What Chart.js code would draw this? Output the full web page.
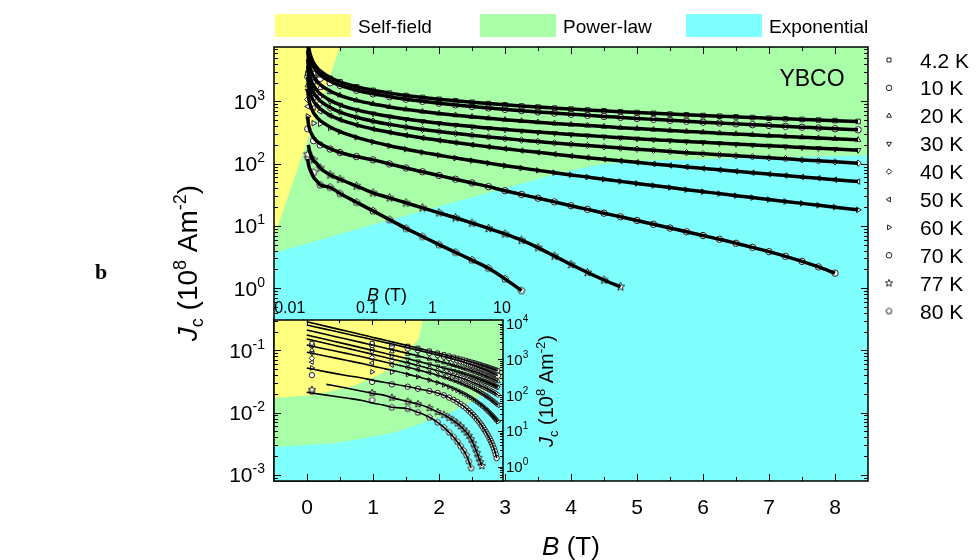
<!DOCTYPE html>
<html>
<head>
<meta charset="utf-8">
<script src="https://cdn.jsdelivr.net/npm/chart.js@4.4.1/dist/chart.umd.min.js"></script>
<style>
  html,body{margin:0;padding:0;background:#ffffff;}
  #wrap{position:relative;width:976px;height:560px;overflow:hidden;background:#fff;}
  #mainChart{position:absolute;left:0;top:0;width:976px;height:560px;}
  #insetChart{position:absolute;left:264px;top:270px;width:296px;height:212px;}
</style>
</head>
<body>
<div id="wrap">
  <canvas id="mainChart" width="976" height="560"></canvas>
  <canvas id="insetChart" width="296" height="212"></canvas>
</div>
<script>
// ---------------- data (B in tesla, Jc in 10^8 A m^-2) ----------------
const temperatureLabels = ['4.2 K','10 K','20 K','30 K','40 K','50 K','60 K','70 K','77 K','80 K'];

// measured field points (markers)
const fieldT = [0.012, 0.1, 0.2, 0.35, 0.5, 0.75, 1, 1.25, 1.5, 1.75, 2, 2.25, 2.5, 2.75, 3, 3.25, 3.5, 3.75,
                4, 4.25, 4.5, 4.75, 5, 5.25, 5.5, 5.75, 6, 6.25, 6.5, 6.75, 7, 7.25, 7.5, 7.75, 8, 8.35];

const jc4K  = [2818, 2818, 2692, 2344, 2065, 1722, 1509, 1360, 1248, 1158, 1085, 1023, 970, 924, 883, 846, 813, 783,
               755, 730, 707, 684, 664, 645, 627, 610, 594, 579, 565, 551, 538, 526, 514, 503, 492, 477];
const jc10K = [2512, 2512, 2344, 1995, 1811, 1512, 1325, 1191, 1088, 1006, 938, 880, 830, 786, 747, 711, 679, 650,
               623, 599, 575, 554, 534, 515, 497, 481, 465, 450, 436, 423, 410, 398, 386, 375, 364, 350];
const jc20K = [1820, 2040, 1660, 1413, 1253, 1041, 910, 817, 746, 689, 642, 602, 567, 537, 510, 486, 464, 444,
               426, 410, 394, 379, 366, 353, 341, 330, 319, 309, 300, 291, 282, 274, 266, 258, 251, 242];
const jc30K = [1479, 1622, 1202, 1000, 882, 731, 638, 571, 521, 480, 447, 419, 394, 373, 354, 337, 322, 308,
               295, 283, 272, 262, 252, 243, 235, 227, 220, 213, 206, 200, 194, 188, 182, 177, 172, 165];
const jc40K = [1072, 1122, 933, 776, 675, 556, 482, 428, 388, 355, 328, 306, 286, 269, 253, 239, 227, 215,
               205, 196, 187, 178, 171, 164, 157, 150, 145, 139, 134, 129, 124, 120, 115, 111, 107, 102];
const jc50K = [832, 794, 692, 589, 510, 420, 361, 319, 286, 259, 237, 218, 201, 187, 174, 162, 152, 142,
               133, 125, 118, 111, 105, 99.2, 93.8, 88.7, 84.0, 79.5, 75.4, 71.5, 67.9, 64.5, 61.2, 58.2, 55.3, 51.6];
const jc60K = [575, 447, 437, 376, 326, 265, 224, 194, 171, 152, 137, 123, 112, 102, 92.9, 85.1, 78.0, 71.7,
               66.0, 60.9, 56.2, 51.9, 48.1, 44.5, 41.3, 38.2, 35.5, 33.0, 30.6, 28.5, 26.5, 24.7, 23.0, 21.4, 20.0, 18.1];
const jc70K = [363, 234, 200, 172, 151, 130, 115, 98.9, 85.1, 74.1, 64.6, 56.2, 49.0, 42.7, 36.7, 32.0, 27.9, 24.3,
               21.1, 18.4, 16.0, 14.0, 12.2, 10.6, 9.23, 8.04, 7.00, 6.10, 5.25, 4.52, 3.85, 3.24, 2.69, 2.19, 1.74];
const jc77K = [141, 115, 85.1, 66.1, 56.2, 43.7, 33.9, 28.2, 23.4, 19.5, 16.2, 13.5, 11.1, 9.12, 7.41, 5.89, 4.47, 3.27,
               2.40, 1.78, 1.35, 1.05];
const jc80K = [126, 72.4, 45.7, 41.7, 33.1, 24.0, 17.4, 12.6, 9.12, 6.76, 5.01, 3.76, 2.82, 2.09, 1.41, 0.912];

// fitted curves: low-field part (continues through the measured points from 0.5 T on)
const fitT   = [0.01, 0.02, 0.04, 0.07, 0.1, 0.15, 0.2, 0.35];
const fit4K  = [11220, 8340, 6190, 4880, 4170, 3500, 3090, 2420];
const fit10K = [9120, 6890, 5200, 4130, 3570, 3020, 2680, 2110];
const fit20K = [6610, 4940, 3710, 2930, 2510, 2110, 1870, 1470];
const fit30K = [4790, 3570, 2660, 2090, 1790, 1500, 1330, 1040];
const fit40K = [3720, 2770, 2070, 1630, 1390, 1160, 1020, 797];
const fit50K = [2510, 1920, 1470, 1180, 1010, 860, 762, 600];
const fit60K = [1585, 1225, 944, 766, 655, 556, 494, 387];
const fit70K = [575, 447, 355, 302, 263, 229, 209, 174];
const fit77K = [null, 200, 158, 129, 112, 100, 85.1, 66.1];
const fit80K = [120, 100, 83.2, 70.8, 60.3, 52.5, 45.7, 41.7];

// tick labels
const xTickLabels = ['0','1','2','3','4','5','6','7','8'];
const yTickExponents = ['-3','-2','-1','0','1','2','3'];
const insetXTickLabels = ['0.01','0.1','1','10'];
const insetYTickExponents = ['0','1','2','3','4'];
const regionLabels = ['Self-field','Power-law','Exponential'];

// regime boundaries (B in T, Jc in 10^8 A m^-2)
const mainSelfFieldB = [0.5, -0.5];
const mainSelfFieldJ = [7500, 6.6];
const mainPowerLawB  = [-0.5, 1, 2, 3, 3.8, 4.4, 5, 6.5, 8.5];
const mainPowerLawJ  = [3.67, 10.4, 20.5, 40.4, 69.5, 94.9, 110, 121, 137];
const insetSelfFieldB = [0.00316, 0.0129, 0.0526, 0.151, 0.305, 0.518, 0.596];
const insetSelfFieldJ = [83.4, 100.5, 183, 428, 1086, 3954, 12589];
const insetPowerLawB  = [0.00316, 0.0261, 0.215, 1.245, 3.57, 10];
const insetPowerLawJ  = [3.57, 4.44, 8.95, 26.1, 67.9, 265];

// ---------------- styling ----------------
const YELLOW = '#ffff80', GREEN = '#a8ffa8', CYAN = '#80ffff';
const FONT = '"Liberation Sans", Arial, Helvetica, sans-serif';
const seriesMarkers = [jc4K, jc10K, jc20K, jc30K, jc40K, jc50K, jc60K, jc70K, jc77K, jc80K];
const seriesFits = [fit4K, fit10K, fit20K, fit30K, fit40K, fit50K, fit60K, fit70K, fit77K, fit80K];

function polyMarker(n, inner, r) {
  const s = Math.ceil(r * 2 + 4);
  const c = document.createElement('canvas'); c.width = s; c.height = s;
  const g = c.getContext('2d');
  const cx = s / 2, cy = s / 2;
  const k = inner < 1 ? n * 2 : n;
  g.beginPath();
  for (let i = 0; i < k; i++) {
    const ang = -Math.PI / 2 + i * 2 * Math.PI / k;
    const rr = (inner < 1 && i % 2) ? r * inner : r;
    const px = cx + rr * Math.cos(ang), py = cy + rr * Math.sin(ang);
    if (i) g.lineTo(px, py); else g.moveTo(px, py);
  }
  g.closePath(); g.fillStyle = '#fff'; g.fill();
  g.lineWidth = 1; g.strokeStyle = '#222'; g.stroke();
  return c;
}
const starImg = polyMarker(5, 0.45, 4.4);
const pentImg = polyMarker(5, 1, 3.6);
const starImgSmall = polyMarker(5, 0.45, 3.8);
const pentImgSmall = polyMarker(5, 1, 3.1);
const markerStyles = ['rect','circle','triangle','triangle','rectRot','triangle','triangle','circle', starImg, pentImg];
const markerStylesSmall = ['rect','circle','triangle','triangle','rectRot','triangle','triangle','circle', starImgSmall, pentImgSmall];
const markerRot = [0, 0, 0, 180, 0, -90, 90, 0, 0, 0];

function pts(xs, ys, from) {
  const out = [];
  for (let i = from || 0; i < ys.length; i++) if (ys[i] != null) out.push({x: xs[i], y: ys[i]});
  return out;
}
function fitPoints(i) { return pts(fitT, seriesFits[i]).concat(pts(fieldT, seriesMarkers[i], 4)); }

function buildDatasets(lineW, rad, styles) {
  const ds = [];
  temperatureLabels.forEach((lab, i) => {
    ds.push({label: lab + ' fit', data: fitPoints(i), showLine: true, borderColor: '#000', borderWidth: lineW,
             pointRadius: 0, cubicInterpolationMode: 'monotone', order: 0, clip: 0});
    ds.push({label: lab, data: pts(fieldT, seriesMarkers[i]), showLine: false, pointStyle: styles[i],
             pointRotation: markerRot[i], pointRadius: rad, pointBackgroundColor: '#fff',
             pointBorderColor: '#222', pointBorderWidth: 1, order: 1, clip: 0});
  });
  return ds;
}

function fnt(p) { return (p.it ? 'italic ' : '') + (p.b ? 'bold ' : '') + p.s + 'px ' + (p.f || FONT); }
function rich(ctx, parts, x, y, align) {
  let w = 0;
  for (const p of parts) { ctx.font = fnt(p); p._w = ctx.measureText(p.t).width; w += p._w; }
  let cx = align === 'center' ? x - w / 2 : (align === 'right' ? x - w : x);
  ctx.textAlign = 'left'; ctx.textBaseline = 'alphabetic';
  for (const p of parts) { ctx.font = fnt(p); ctx.fillText(p.t, cx, y + (p.dy || 0)); cx += p._w; }
}
function drawLegendMarker(ctx, style, rot, r, x, y) {
  ctx.save();
  ctx.fillStyle = '#fff'; ctx.strokeStyle = '#222'; ctx.lineWidth = 1;
  if (Chart.helpers && Chart.helpers.drawPoint) {
    Chart.helpers.drawPoint(ctx, {pointStyle: style, rotation: rot, radius: r, borderWidth: 1}, x, y);
  }
  ctx.restore();
}
// adds boundary vertices to the current path
function polyPath(ctx, xs, ys, bs, js, startNew) {
  bs.forEach((b, i) => {
    const px = xs.getPixelForValue(b), py = ys.getPixelForValue(js[i]);
    if (i === 0 && startNew) ctx.moveTo(px, py); else ctx.lineTo(px, py);
  });
}
function tickLine(ctx, x1, y1, x2, y2) { ctx.moveTo(x1, y1); ctx.lineTo(x2, y2); }

function linXTicks(ctx, xs, yPix, dir, ox, xmin, xmax) {
  for (let v = -0.5; v <= 8.5001; v += 0.5) {
    const px = Math.round(xs.getPixelForValue(v) - ox) + 0.5;
    if (px < xmin + 1 || px > xmax - 1) continue;
    const major = Math.abs(v - Math.round(v)) < 1e-6;
    tickLine(ctx, px, yPix, px, yPix + dir * (major ? 7 : 4));
  }
}
function logYTicks(ctx, ys, xPix, dir, oy, ymin, ymax, majLen, minLen) {
  for (let e = -5; e <= 5; e++) for (let m = 1; m <= 9; m++) {
    const v = m * Math.pow(10, e);
    const py = Math.round(ys.getPixelForValue(v) - oy) + 0.5;
    if (py < ymin + 1 || py > ymax - 1) continue;
    tickLine(ctx, xPix, py, xPix + dir * (m === 1 ? majLen : minLen), py);
  }
}

// ---------------- main chart ----------------
const mainDecor = {
  id: 'mainDecor',
  beforeDatasetsDraw(chart) {
    const {ctx, chartArea: a, scales: {x, y}} = chart;
    ctx.save();
    ctx.beginPath(); ctx.rect(a.left, a.top, a.right - a.left, a.bottom - a.top); ctx.clip();
    ctx.fillStyle = GREEN; ctx.fillRect(a.left, a.top, a.right - a.left, a.bottom - a.top);
    ctx.beginPath(); polyPath(ctx, x, y, mainPowerLawB, mainPowerLawJ, true);
    ctx.lineTo(a.right + 2, a.bottom + 2); ctx.lineTo(a.left - 2, a.bottom + 2); ctx.closePath();
    ctx.fillStyle = CYAN; ctx.fill();
    ctx.beginPath(); ctx.moveTo(a.left - 2, a.top - 2);
    polyPath(ctx, x, y, mainSelfFieldB, mainSelfFieldJ, false);
    ctx.lineTo(a.left - 2, y.getPixelForValue(mainSelfFieldJ[1])); ctx.closePath();
    ctx.fillStyle = YELLOW; ctx.fill();
    ctx.restore();
  },
  afterDatasetsDraw(chart) {
    const {ctx, chartArea: a, scales: {x, y}} = chart;
    ctx.save();
    ctx.strokeStyle = '#000'; ctx.lineWidth = 1;
    ctx.beginPath();
    linXTicks(ctx, x, a.bottom, -1, 0, a.left, a.right);
    linXTicks(ctx, x, a.top, 1, 0, a.left, a.right);
    logYTicks(ctx, y, a.left, 1, 0, a.top, a.bottom, 7, 4);
    logYTicks(ctx, y, a.right, -1, 0, a.top, a.bottom, 7, 4);
    ctx.stroke();
    ctx.lineWidth = 1.5;
    ctx.strokeRect(a.left, a.top, a.right - a.left, a.bottom - a.top);
    ctx.restore();
  },
  afterDraw(chart) {
    const {ctx, chartArea: a, scales: {x, y}} = chart;
    ctx.save();
    ctx.fillStyle = '#000';
    xTickLabels.forEach(t => rich(ctx, [{t: t, s: 21}], x.getPixelForValue(Number(t)), 513.5, 'center'));
    yTickExponents.forEach(e => {
      const py = y.getPixelForValue(Math.pow(10, Number(e)));
      rich(ctx, [{t: '10', s: 21}, {t: e, s: 14, dy: -9}], 265, py + 7.5, 'right');
    });
    rich(ctx, [{t: 'B', it: true, s: 26}, {t: ' (T)', s: 26}], (a.left + a.right) / 2, 555, 'center');
    ctx.save();
    ctx.translate(187, 263); ctx.rotate(-Math.PI / 2);
    rich(ctx, [{t: 'J', it: true, s: 28}, {t: 'c', s: 18, dy: 6}, {t: ' (10', s: 28}, {t: '8', s: 18, dy: -11},
               {t: ' Am', s: 28}, {t: '-2', s: 18, dy: -11}, {t: ')', s: 28}], 0, 10, 'center');
    ctx.restore();
    rich(ctx, [{t: 'YBCO', s: 23}], 812, 85.5, 'center');
    rich(ctx, [{t: 'b', s: 22, b: true, f: '"Liberation Serif", "Times New Roman", serif'}], 101, 279, 'center');
    const regColors = [YELLOW, GREEN, CYAN];
    const regRectX = [275, 480, 686], regTextX = [358, 563, 769];
    regionLabels.forEach((t, i) => {
      ctx.fillStyle = regColors[i]; ctx.fillRect(regRectX[i], 14, 76, 23);
      ctx.fillStyle = '#000'; rich(ctx, [{t: t, s: 19}], regTextX[i], 32.5, 'left');
    });
    temperatureLabels.forEach((t, i) => {
      const yy = 60 + i * 27.9;
      drawLegendMarker(ctx, markerStylesSmall[i], markerRot[i], 2.8, 889, yy);
      ctx.fillStyle = '#000';
      rich(ctx, [{t: t, s: 21}], 920, yy + 7.5, 'left');
    });
    ctx.restore();
  }
};

const mainChart = new Chart(document.getElementById('mainChart'), {
  type: 'scatter',
  data: {datasets: buildDatasets(3.5, 3.2, markerStyles)},
  options: {
    responsive: false, animation: false, devicePixelRatio: 1, events: [],
    layout: {autoPadding: false, padding: {left: 274, right: 108, top: 47, bottom: 79}},
    plugins: {legend: {display: false}, tooltip: {enabled: false}},
    scales: {
      x: {type: 'linear', min: -0.5, max: 8.5, display: false},
      y: {type: 'logarithmic', min: Math.pow(10, -3.1), max: Math.pow(10, 3.875), display: false}
    }
  },
  plugins: [mainDecor]
});

// ---------------- inset (log-log) ----------------
const INSET_LEFT = 264, INSET_TOP = 270;
const insetDecor = {
  id: 'insetDecor',
  beforeDatasetsDraw(chart) {
    const {ctx, chartArea: a, scales: {x, y}} = chart;
    ctx.save();
    ctx.beginPath(); ctx.rect(a.left, a.top, a.right - a.left, a.bottom - a.top); ctx.clip();
    ctx.fillStyle = GREEN; ctx.fillRect(a.left, a.top, a.right - a.left, a.bottom - a.top);
    ctx.beginPath(); polyPath(ctx, x, y, insetPowerLawB, insetPowerLawJ, true);
    ctx.lineTo(a.right + 2, a.bottom + 2); ctx.lineTo(a.left - 2, a.bottom + 2); ctx.closePath();
    ctx.fillStyle = CYAN; ctx.fill();
    ctx.beginPath(); ctx.moveTo(a.left - 2, a.top - 2);
    polyPath(ctx, x, y, insetSelfFieldB, insetSelfFieldJ, false);
    ctx.closePath();
    ctx.fillStyle = YELLOW; ctx.fill();
    ctx.restore();
  },
  afterDatasetsDraw(chart) {
    const {ctx, chartArea: a, scales: {x, y}} = chart;
    const mx = mainChart.scales.x, my = mainChart.scales.y;
    ctx.save();
    ctx.strokeStyle = '#000'; ctx.lineWidth = 1;
    ctx.beginPath();
    linXTicks(ctx, mx, a.bottom, -1, INSET_LEFT, a.left, a.right);
    logYTicks(ctx, my, a.left, 1, INSET_TOP, a.top, a.bottom, 7, 4);
    for (let e = -2.5; e <= 1.001; e += 0.5) {
      const px = Math.round(x.getPixelForValue(Math.pow(10, e))) + 0.5;
      if (px < a.left + 1 || px > a.right - 1) continue;
      const major = Math.abs(e - Math.round(e)) < 1e-6;
      tickLine(ctx, px, a.top, px, a.top + (major ? 5 : 3));
    }
    logYTicks(ctx, y, a.right, -1, 0, a.top, a.bottom, 5, 3);
    ctx.stroke();
    ctx.lineWidth = 1.5;
    ctx.strokeRect(a.left, a.top, a.right - a.left, a.bottom - a.top);
    ctx.restore();
  },
  afterDraw(chart) {
    const {ctx, chartArea: a, scales: {x, y}} = chart;
    ctx.save();
    ctx.fillStyle = '#000';
    const shift = [-17, -5, -5, -1];
    insetXTickLabels.forEach((t, i) => {
      rich(ctx, [{t: t, s: 16}], x.getPixelForValue(Number(t)) + shift[i], 42.8, 'center');
    });
    rich(ctx, [{t: 'B', it: true, s: 18}, {t: ' (T)', s: 18}], 123, 30.5, 'center');
    insetYTickExponents.forEach(e => {
      const py = y.getPixelForValue(Math.pow(10, Number(e)));
      rich(ctx, [{t: '10', s: 15}, {t: e, s: 10, dy: -7}], a.right + 3, py + 5.5, 'left');
    });
    ctx.save();
    ctx.translate(282, 391 - INSET_TOP); ctx.rotate(-Math.PI / 2);
    rich(ctx, [{t: 'J', it: true, s: 20}, {t: 'c', s: 13, dy: 5}, {t: ' (10', s: 20}, {t: '8', s: 13, dy: -8},
               {t: ' Am', s: 20}, {t: '-2', s: 13, dy: -8}, {t: ')', s: 20}], 0, 7, 'center');
    ctx.restore();
    ctx.restore();
  }
};

new Chart(document.getElementById('insetChart'), {
  type: 'scatter',
  data: {datasets: buildDatasets(1.6, 2.7, markerStylesSmall)},
  options: {
    responsive: false, animation: false, devicePixelRatio: 1, events: [],
    layout: {autoPadding: false, padding: {left: 10, right: 57, top: 50, bottom: 1}},
    plugins: {legend: {display: false}, tooltip: {enabled: false}},
    scales: {
      x: {type: 'logarithmic', min: Math.pow(10, -2.5), max: 10, display: false},
      y: {type: 'logarithmic', min: Math.pow(10, -0.4), max: Math.pow(10, 4.1), display: false}
    }
  },
  plugins: [insetDecor]
});
</script>
</body>
</html>
